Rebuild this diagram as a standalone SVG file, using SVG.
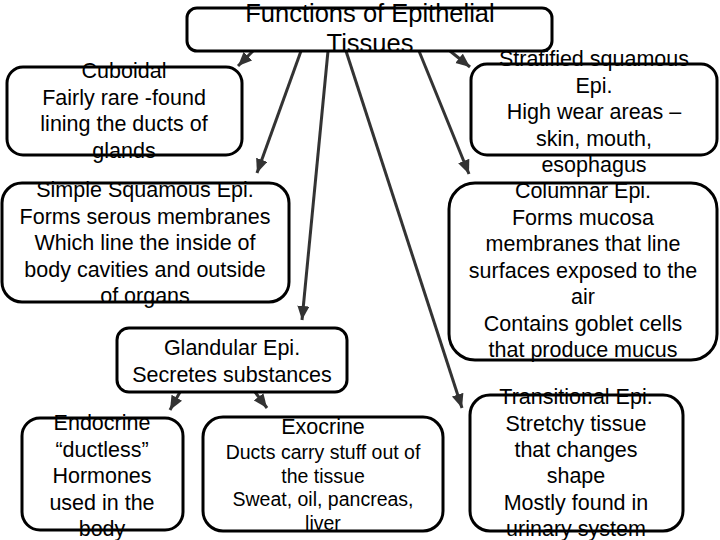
<svg xmlns="http://www.w3.org/2000/svg" width="720" height="540" viewBox="0 0 720 540">
<style>
.box{fill:none;stroke:#000;stroke-width:3}
text{font-family:"Liberation Sans",Arial,sans-serif;font-size:21.5px;fill:#000;text-anchor:middle}
.title{font-size:25.5px}
.small{font-size:19.5px}
.conn{stroke:#333;stroke-width:3;fill:none;marker-end:url(#ah)}
</style>
<defs>
<marker id="ah" markerUnits="userSpaceOnUse" markerWidth="16" markerHeight="14" refX="14" refY="6" orient="auto">
<path d="M0,0 L14,6 L0,12 Z" fill="#333"/>
</marker>
</defs>
<rect width="720" height="540" fill="#fff"/>
<g id="connectors">
<line class="conn" x1="253" y1="51" x2="238" y2="66"/>
<line class="conn" x1="301" y1="51" x2="257" y2="173"/>
<line class="conn" x1="328" y1="51" x2="302" y2="320"/>
<line class="conn" x1="346" y1="51" x2="462" y2="408"/>
<line class="conn" x1="419" y1="51" x2="469" y2="174"/>
<line class="conn" x1="450" y1="51" x2="470" y2="67"/>
<line class="conn" x1="180" y1="392" x2="170" y2="410"/>
<line class="conn" x1="255" y1="392" x2="267" y2="408"/>
</g>
<g id="title">
<rect class="box" x="187" y="8" width="365" height="43" rx="10"/>
<text class="title" x="370" y="22">Functions of Epithelial</text>
<text class="title" x="370" y="52">Tissues</text>
</g>
<g id="cuboidal">
<rect class="box" x="7" y="67" width="235" height="88" rx="16"/>
<text x="124" y="78">Cuboidal</text>
<text x="124" y="104.5">Fairly rare -found</text>
<text x="124" y="131">lining the ducts of</text>
<text x="124" y="157.5">glands</text>
</g>
<g id="simple-squamous">
<rect class="box" x="2" y="183" width="287" height="119" rx="20"/>
<text x="145" y="197">Simple Squamous Epi.</text>
<text x="145" y="223.5">Forms serous membranes</text>
<text x="145" y="250">Which line the inside of</text>
<text x="145" y="276.5">body cavities and outside</text>
<text x="145" y="303">of organs</text>
</g>
<g id="stratified">
<rect class="box" x="471" y="64" width="246" height="91" rx="16"/>
<text x="594" y="66">Stratified squamous</text>
<text x="594" y="92.5">Epi.</text>
<text x="594" y="119">High wear areas –</text>
<text x="594" y="145.5">skin, mouth,</text>
<text x="594" y="172">esophagus</text>
</g>
<g id="columnar">
<rect class="box" x="449" y="183" width="268" height="177" rx="26"/>
<text x="583" y="198">Columnar Epi.</text>
<text x="583" y="224.5">Forms mucosa</text>
<text x="583" y="251">membranes that line</text>
<text x="583" y="277.5">surfaces exposed to the</text>
<text x="583" y="304">air</text>
<text x="583" y="330.5">Contains goblet cells</text>
<text x="583" y="357">that produce mucus</text>
</g>
<g id="glandular">
<rect class="box" x="117" y="328" width="230" height="64" rx="12"/>
<text x="232" y="355">Glandular Epi.</text>
<text x="232" y="381.5">Secretes substances</text>
</g>
<g id="endocrine">
<rect class="box" x="22" y="418" width="161" height="112" rx="18"/>
<text x="102" y="430">Endocrine</text>
<text x="102" y="456.5">“ductless”</text>
<text x="102" y="483">Hormones</text>
<text x="102" y="509.5">used in the</text>
<text x="102" y="536">body</text>
</g>
<g id="exocrine">
<rect class="box" x="203" y="417" width="240" height="114" rx="20"/>
<text x="323" y="434">Exocrine</text>
<text class="small" x="323" y="458.5">Ducts carry stuff out of</text>
<text class="small" x="323" y="482.5">the tissue</text>
<text class="small" x="323" y="506">Sweat, oil, pancreas,</text>
<text class="small" x="323" y="530">liver</text>
</g>
<g id="transitional">
<rect class="box" x="470" y="395" width="213" height="136" rx="20"/>
<text x="576" y="404">Transitional Epi.</text>
<text x="576" y="430.5">Stretchy tissue</text>
<text x="576" y="457">that changes</text>
<text x="576" y="483">shape</text>
<text x="576" y="509.5">Mostly found in</text>
<text x="576" y="536">urinary system</text>
</g>
</svg>
